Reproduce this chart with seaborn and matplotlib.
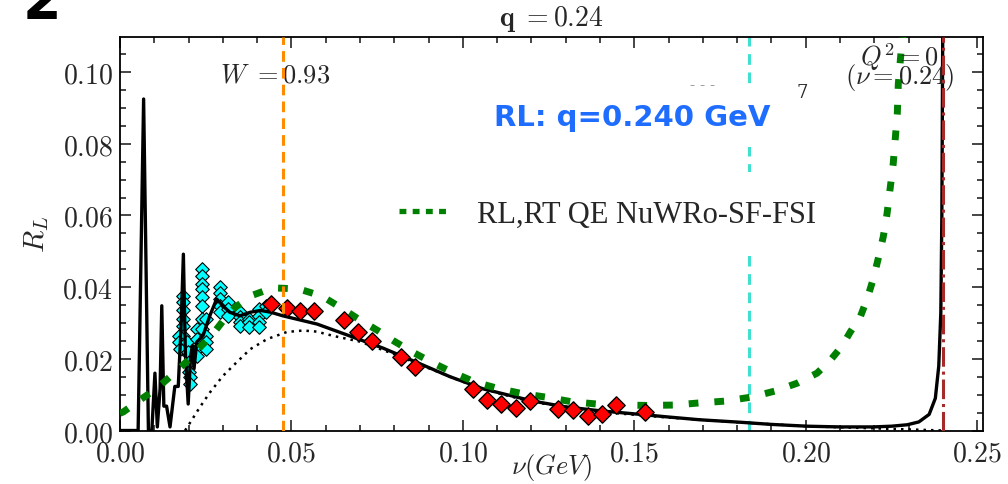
import numpy as np
import pandas as pd
import matplotlib
matplotlib.use("Agg")
import matplotlib.pyplot as plt
from matplotlib.lines import Line2D
from matplotlib.ticker import MultipleLocator, FuncFormatter
import seaborn as sns

# ---------------- data ----------------
nu_black = [0.0, 0.0053, 0.0069, 0.0083, 0.0093, 0.0102, 0.0109, 0.0117, 0.0122, 0.0128,
            0.0136, 0.0146, 0.0160, 0.0170, 0.0178, 0.0185, 0.0191, 0.0199, 0.0206, 0.0212,
            0.0216, 0.0224, 0.0242, 0.0262, 0.0282, 0.0300, 0.0320, 0.0350, 0.0380, 0.0410,
            0.0440, 0.0475, 0.0575, 0.0670, 0.0767, 0.0866, 0.0963, 0.1060, 0.1158, 0.1205,
            0.1300, 0.1400, 0.1517, 0.1596, 0.1690, 0.1810, 0.1900, 0.2004, 0.2100, 0.2197,
            0.2250, 0.2296, 0.2330, 0.2360, 0.2378, 0.2388, 0.2394, 0.2397, 0.2400]
R_black = [0.0, 0.0, 0.0925, 0.0, 0.0, 0.0160, 0.0010, 0.0116, 0.0348, 0.0068,
           0.0068, 0.0010, 0.0123, 0.0123, 0.0283, 0.0492, 0.0209, 0.0074, 0.0209, 0.0237,
           0.0172, 0.0247, 0.0264, 0.0320, 0.0367, 0.0348, 0.0330, 0.0320, 0.0330, 0.0335,
           0.0330, 0.0320, 0.0297, 0.0264, 0.0230, 0.0190, 0.0150, 0.0116, 0.0093, 0.0082,
           0.0066, 0.0055, 0.0045, 0.0038, 0.0030, 0.0023, 0.0017, 0.0012, 0.0010, 0.0010,
           0.0012, 0.0016, 0.0024, 0.0045, 0.0090, 0.0180, 0.0330, 0.0600, 0.1200]

nu_dot = [0.0190, 0.0198, 0.0233, 0.0263, 0.0300, 0.0340, 0.0380, 0.0429, 0.0487, 0.0534,
          0.0574, 0.0622, 0.0700, 0.0800, 0.0900, 0.1000, 0.1100, 0.1200, 0.1400, 0.1600,
          0.1800, 0.2000, 0.2200, 0.2300, 0.2400]
R_dot = [0.0, 0.0012, 0.0065, 0.0107, 0.0152, 0.0190, 0.0227, 0.0255, 0.0275, 0.0279,
         0.0276, 0.0264, 0.0248, 0.0213, 0.0174, 0.0136, 0.0105, 0.0080, 0.0052, 0.0036,
         0.0023, 0.0012, 0.0006, 0.0003, 0.0]

nu_green = [0.0, 0.0010, 0.0058, 0.0108, 0.0152, 0.0193, 0.0230, 0.0268, 0.0300, 0.0335,
            0.0385, 0.0446, 0.0522, 0.0589, 0.0642, 0.0697, 0.0750, 0.0800, 0.0855, 0.0910,
            0.0968, 0.1036, 0.1100, 0.1173, 0.1243, 0.1319, 0.1390, 0.1464, 0.1537, 0.1616,
            0.1690, 0.1765, 0.1840, 0.1910, 0.1975, 0.2033, 0.2070, 0.2106, 0.2130, 0.2159,
            0.2179, 0.2197, 0.2211, 0.2226, 0.2237, 0.2246, 0.2255, 0.2261, 0.2267, 0.2270,
            0.2278, 0.2284]
R_green = [0.0048, 0.0052, 0.0085, 0.0118, 0.0155, 0.0191, 0.0229, 0.0266, 0.0305, 0.0343,
           0.0377, 0.0398, 0.0395, 0.0375, 0.0344, 0.0310, 0.0280, 0.0249, 0.0218, 0.0190,
           0.0163, 0.0135, 0.0118, 0.0103, 0.0093, 0.0080, 0.0074, 0.0071, 0.0070, 0.0071,
           0.0077, 0.0082, 0.0093, 0.0110, 0.0132, 0.0160, 0.0194, 0.0236, 0.0275, 0.0317,
           0.0367, 0.0423, 0.0478, 0.0540, 0.0604, 0.0674, 0.0743, 0.0813, 0.0883, 0.0967,
           0.1056, 0.1106]

nu_red = [0.0440, 0.0487, 0.0525, 0.0566, 0.0653, 0.0694, 0.0735, 0.0820, 0.0860, 0.1030,
          0.1070, 0.1111, 0.1155, 0.1196, 0.1278, 0.1322, 0.1365, 0.1406, 0.1447, 0.1530]
R_red = [0.0353, 0.0343, 0.0334, 0.0333, 0.0308, 0.0274, 0.0250, 0.0205, 0.0177, 0.0116,
         0.0086, 0.0074, 0.0063, 0.0083, 0.0060, 0.0057, 0.0041, 0.0046, 0.0071, 0.0052]
err_red = [0.0010, 0.0010, 0.0010, 0.0010, 0.0010, 0.0010, 0.0010, 0.0010, 0.0010, 0.0014,
           0.0016, 0.0012, 0.0012, 0.0014, 0.0012, 0.0012, 0.0016, 0.0016, 0.0016, 0.0016]

nu_cyan = [0.0185, 0.0185, 0.0185, 0.0185, 0.0185, 0.0185, 0.0185, 0.0185,
           0.0172, 0.0172, 0.0175,
           0.0196, 0.0198, 0.0200, 0.0200, 0.0203, 0.0203,
           0.0224, 0.0224, 0.0224, 0.0224,
           0.0240, 0.0240, 0.0240, 0.0240, 0.0240, 0.0240, 0.0240, 0.0240,
           0.0250, 0.0250, 0.0250, 0.0250,
           0.0292, 0.0292, 0.0292, 0.0292, 0.0292,
           0.0315, 0.0315, 0.0315,
           0.0350, 0.0350, 0.0350, 0.0350,
           0.0375, 0.0375, 0.0375,
           0.0405, 0.0405, 0.0405, 0.0405,
           0.0425, 0.0425]
R_cyan = [0.0376, 0.0358, 0.0335, 0.0311, 0.0292, 0.0264, 0.0246, 0.0227,
          0.0264, 0.0246, 0.0227,
          0.0247, 0.0219, 0.0191, 0.0163, 0.0149, 0.0130,
          0.0283, 0.0255, 0.0227, 0.0208,
          0.0452, 0.0432, 0.0409, 0.0395, 0.0372, 0.0348, 0.0311, 0.0283,
          0.0311, 0.0264, 0.0247, 0.0227,
          0.0400, 0.0385, 0.0367, 0.0348, 0.0330,
          0.0358, 0.0339, 0.0320,
          0.0330, 0.0317, 0.0302, 0.0292,
          0.0311, 0.0302, 0.0289,
          0.0339, 0.0320, 0.0302, 0.0288,
          0.0348, 0.0330]

nu_W = 0.0475
nu_cut = 0.1835
nu_Q0 = 0.24

x_ticks = [0.00, 0.05, 0.10, 0.15, 0.20, 0.25]
y_ticks = [0.00, 0.02, 0.04, 0.06, 0.08, 0.10]

# ---------------- style ----------------
sns.set_style("ticks")
plt.rcParams['font.family'] = ['DejaVu Serif', 'DejaVu Sans']
plt.rcParams['mathtext.fontset'] = 'cm'

fig = plt.figure(figsize=(10.08, 4.85), dpi=100)
ax = fig.add_axes([0.1190, 0.1103, 0.8562, 0.8113])

df_black = pd.DataFrame({"nu": nu_black, "R": R_black})
df_dot = pd.DataFrame({"nu": nu_dot, "R": R_dot})
df_green = pd.DataFrame({"nu": nu_green, "R": R_green})
df_red = pd.DataFrame({"nu": nu_red, "R": R_red})
df_cyan = pd.DataFrame({"nu": nu_cyan, "R": R_cyan})

sns.scatterplot(data=df_cyan, x="nu", y="R", ax=ax, marker="D", s=48, color="cyan",
                edgecolor="black", linewidth=0.8, zorder=2, legend=False)
sns.lineplot(data=df_black, x="nu", y="R", ax=ax, color="black", lw=2.4, sort=False,
             estimator=None, zorder=3, legend=False)
sns.lineplot(data=df_dot, x="nu", y="R", ax=ax, color="black", lw=1.8, linestyle=(0, (1, 2)),
             sort=False, estimator=None, zorder=3, legend=False)
sns.lineplot(data=df_green, x="nu", y="R", ax=ax, color="green", lw=5, linestyle=(0, (1.4, 2.3)),
             sort=False, estimator=None, zorder=3.5, legend=False)
ax.errorbar(nu_red, R_red, yerr=err_red, fmt="none", ecolor="black", elinewidth=1, zorder=3.8)
sns.scatterplot(data=df_red, x="nu", y="R", ax=ax, marker="D", s=78, color="red",
                edgecolor="black", linewidth=1, zorder=4, legend=False)

ax.axvline(nu_W, color="darkorange", lw=2.2, linestyle=(0, (3.5, 2)), zorder=4)
ax.axvline(nu_cut, color="turquoise", lw=2.2, linestyle=(0, (3.5, 2.5)), zorder=1)
ax.axvline(nu_Q0, color="#a52a2a", lw=2.2, linestyle="-.", zorder=4)

ax.set_xlim(0, 0.2517)
ax.set_ylim(0, 0.1098)
ax.xaxis.set_minor_locator(MultipleLocator(0.01))
ax.yaxis.set_minor_locator(MultipleLocator(0.005))
ax.set_xticks(x_ticks)
ax.set_yticks(y_ticks)
fmt = FuncFormatter(lambda v, p: r"$%.2f$" % v)
ax.xaxis.set_major_formatter(fmt)
ax.yaxis.set_major_formatter(fmt)
ax.tick_params(which="both", direction="in", top=True, right=True, labelsize=20, width=1.2)
ax.tick_params(axis="x", which="major", pad=6.5)
ax.tick_params(axis="y", which="major", pad=5)
ax.tick_params(which="major", length=8)
ax.tick_params(which="minor", length=4)
for s in ax.spines.values():
    s.set_linewidth(1.3)
    s.set_color("black")

ax.set_xlabel(r"$\nu(GeV)$", fontsize=19)
ax.xaxis.set_label_coords(0.5, -0.052)
ax.set_ylabel(r"$R_L$", fontsize=21, labelpad=8)
ax.set_title(r"$\mathbf{q}\ {=}0.24$", fontsize=20, pad=9)

ax.text(0.0292, 0.0994, r"$W\ {=}0.93$", fontsize=19, ha="left", va="center", zorder=3)
ax.text(0.2275, 0.1045, r"$Q^2 = 0$", fontsize=19, ha="center", va="center", zorder=5)
ax.text(0.2275, 0.0987, r"$(\nu = 0.24)$", fontsize=19, ha="center", va="center", zorder=5)

ax.text(0.1494, 0.0874, "RL: q=0.240 GeV", fontsize=21, fontweight="bold", color="#1f6dff",
        family="DejaVu Sans", ha="center", va="center", zorder=3,
        bbox=dict(boxstyle="square,pad=0.55", fc="white", ec="none"))
ax.text(0.199, 0.0945, "7", fontsize=13, ha="center", va="center", zorder=4)
ax.text(0.1698, 0.0965, "- - -", fontsize=11, color="gray", ha="center", va="center", zorder=4)

handle = Line2D([], [], color="green", lw=3.8, linestyle=(0, (1.3, 1.2)))
leg = ax.legend([handle], ["RL,RT QE NuWRo-SF-FSI"], loc="center left",
                bbox_to_anchor=(0.291, 0.550), borderaxespad=0, borderpad=0.9,
                handlelength=1.7, handletextpad=0.85, frameon=True, fancybox=False,
                prop={"family": "Liberation Serif", "size": 22})
leg.get_frame().set_facecolor("white")
leg.get_frame().set_edgecolor("none")
leg.get_frame().set_alpha(1)
leg.set_zorder(6)

fig.text(0.022, 0.963, "2", fontsize=40, fontweight="bold", family="DejaVu Sans",
         va="baseline", ha="left", color="black")

fig.savefig("out.png", dpi=100)
